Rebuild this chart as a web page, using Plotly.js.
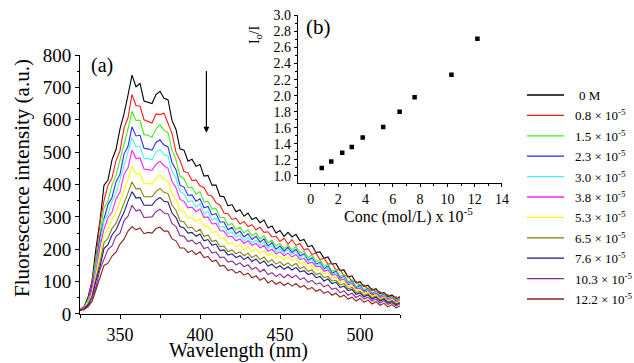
<!DOCTYPE html>
<html>
<head>
<meta charset="utf-8">
<script src="https://cdn.plot.ly/plotly-3.0.1.min.js"></script>
<style>html,body{margin:0;padding:0;background:#fff;}#chart{width:634px;height:363px;}</style>
</head>
<body>
<div id="chart"></div>
<script>
// Wavelength grid (nm), 325..525 step 2.5
const wavelength = [325,327.5,330,332.5,335,337.5,340,342.5,345,347.5,350,352.5,355,357.5,360,362.5,365,367.5,370,372.5,375,377.5,380,382.5,385,387.5,390,392.5,395,397.5,400,402.5,405,407.5,410,412.5,415,417.5,420,422.5,425,427.5,430,432.5,435,437.5,440,442.5,445,447.5,450,452.5,455,457.5,460,462.5,465,467.5,470,472.5,475,477.5,480,482.5,485,487.5,490,492.5,495,497.5,500,502.5,505,507.5,510,512.5,515,517.5,520,522.5,525];

const seriesNames = ["0 M","0.8 × 10<sup>-5</sup>","1.5 × 10<sup>-5</sup>","2.3 × 10<sup>-5</sup>","3.0 × 10<sup>-5</sup>","3.8 × 10<sup>-5</sup>","5.3 × 10<sup>-5</sup>","6.5 × 10<sup>-5</sup>","7.6 × 10<sup>-5</sup>","10.3 × 10<sup>-5</sup>","12.2 × 10<sup>-5</sup>"];

const s0M = [16,22,52,100,204,288,398,414,476,508,572,618,676,738,702,712,658,654,650,678,688,666,662,598,570,510,506,472,478,456,462,426,428,398,398,364,362,334,338,316,322,302,312,292,298,282,290,266,272,250,258,240,252,238,246,226,230,208,212,190,192,172,176,154,156,134,136,114,118,96,100,85,89,73,78,63,66,54,59,48,53];
const s08 = [14,23,40,102,176,282,350,398,420,474,504,574,606,678,644,642,600,594,590,618,616,620,590,558,500,474,440,436,412,414,396,390,368,364,344,336,312,310,292,296,278,286,270,276,260,268,252,254,238,240,224,234,216,230,212,218,198,202,184,188,168,172,154,156,136,138,118,118,100,102,86,90,75,79,66,69,56,60,49,53,46];
const s15 = [15,20,43,85,168,246,328,350,398,428,476,520,572,626,598,598,554,552,546,572,584,568,560,506,476,426,418,390,392,370,378,346,348,324,326,298,298,274,280,260,268,250,260,242,250,232,242,220,228,210,218,202,212,198,208,188,194,174,182,162,168,148,154,132,138,116,122,100,106,84,92,74,82,64,72,56,62,48,54,43,49];
const s23 = [13,21,35,86,146,238,294,338,360,408,432,494,518,578,550,552,512,510,506,530,538,522,516,468,446,398,392,366,368,348,356,328,332,306,310,284,284,260,268,248,256,238,248,230,240,222,232,210,220,200,210,194,206,190,200,180,186,166,174,154,160,140,148,126,132,110,116,94,101,80,88,70,78,61,69,53,60,45,53,40,48];
const s30 = [14,19,39,74,146,214,290,308,348,372,416,452,496,544,516,518,480,480,476,500,508,492,488,440,420,378,372,346,350,330,340,310,316,290,296,268,270,248,254,236,244,226,236,220,228,212,222,202,212,192,202,188,198,184,194,174,182,162,170,150,156,136,144,122,128,106,114,92,99,78,85,68,76,58,68,50,59,43,51,37,47];
const s38 = [12,20,31,76,128,208,262,298,314,356,376,432,452,506,480,482,448,446,444,462,472,458,450,410,390,354,348,328,330,316,324,298,300,278,280,258,256,238,240,226,232,218,226,212,218,204,212,194,200,186,192,180,188,176,184,168,172,156,160,146,148,132,136,120,122,104,108,90,94,78,80,67,72,58,64,50,55,42,48,37,43];
const s53 = [13,17,34,61,122,178,244,262,294,314,348,380,416,456,432,434,404,402,402,420,430,416,410,372,354,320,316,296,298,286,294,270,272,252,256,234,234,216,220,208,214,200,208,194,202,188,196,180,186,172,179,166,176,164,172,156,160,146,150,136,138,124,128,112,114,98,102,84,88,72,75,62,68,54,60,46,52,40,45,34,40];
const s65 = [11,18,30,55,110,160,220,234,264,280,310,340,374,408,386,388,362,362,362,378,388,376,372,336,320,288,284,266,268,254,262,240,244,224,228,208,210,192,198,186,192,180,188,174,182,168,176,160,168,154,161,150,158,148,156,140,146,132,136,122,126,112,116,102,104,90,94,78,82,66,70,57,63,50,56,43,49,37,42,32,37];
const s76 = [13,15,28,51,102,146,202,214,244,260,288,314,348,378,358,360,336,336,336,352,360,348,346,312,298,270,266,250,252,240,247,226,230,212,216,196,198,182,186,174,180,168,176,162,170,156,164,148,154,142,149,138,146,136,144,130,134,122,126,112,116,102,108,94,98,82,86,72,76,61,65,53,59,46,52,40,46,34,38,29,34];
const s103 = [10,16,22,50,84,138,172,200,210,240,250,288,302,336,318,322,298,300,300,316,324,312,310,280,270,242,240,224,228,216,222,202,206,188,192,174,176,160,164,152,158,146,152,138,144,130,138,122,128,116,124,112,122,112,120,106,112,98,104,92,96,84,90,76,80,66,72,58,64,51,58,46,52,40,46,34,41,30,35,25,31];
const s122 = [11,13,23,38,75,110,150,157,179,191,216,231,256,270,260,266,248,252,250,264,268,256,256,232,226,204,204,190,196,184,192,174,178,162,166,148,150,134,138,126,132,120,126,112,118,104,112,96,104,92,99,88,96,86,94,82,88,76,82,70,76,64,70,58,64,52,58,46,52,40,48,36,43,31,38,27,33,22,29,19,25];

const spectra = [s0M,s08,s15,s23,s30,s38,s53,s65,s76,s103,s122];
const colors = ["#000000","#ff1a1a","#44ee11","#2a2aff","#44f4f4","#ff22ff","#ffff00","#808000","#1a1a8c","#8a2a96","#8c2020"];

// Inset (b): Stern–Volmer data
const concValues = [0.8,1.5,2.3,3.0,3.8,5.3,6.5,7.6,10.3,12.2];
const ratioValues = [1.10,1.18,1.29,1.36,1.48,1.61,1.80,1.98,2.26,2.71];

const font = "Liberation Serif";

// pixel -> paper helpers (paper spans x 80..502, y 15..314)
const PX = px => (px - 80) / 422;
const PY = py => (314 - py) / 299;

const traces = spectra.map((s, i) => ({
  x: wavelength, y: s, type: "scatter", mode: "lines",
  name: seriesNames[i], showlegend: false,
  line: {color: colors[i], width: 1.1},
  xaxis: "x", yaxis: "y"
}));
traces.push({
  x: concValues, y: ratioValues, type: "scatter", mode: "markers",
  marker: {symbol: "square", size: 4.5, color: "#000"},
  xaxis: "x2", yaxis: "y2", showlegend: false
});

const axisCommon = {showgrid: false, zeroline: false, showline: true, linecolor: "#000", linewidth: 1,
  ticks: "outside", tickcolor: "#000", ticklen: 4, tickwidth: 1};

function ann(px, py, text, size, extra) {
  return Object.assign({xref: "paper", yref: "paper", x: PX(px), y: PY(py),
    xanchor: "center", yanchor: "middle", text: text, showarrow: false,
    font: {size: size, family: font, color: "#000"}}, extra || {});
}

// Hand-built legend (line + label per series)
const legendShapes = [];
const legendAnns = [];
seriesNames.forEach((nm, i) => {
  const py = 95 + i * 20.4;
  legendShapes.push({type: "line", xref: "paper", yref: "paper", x0: PX(527), x1: PX(564), y0: PY(py), y1: PY(py),
    line: {color: colors[i], width: 1.3}});
  legendAnns.push(ann(i === 0 ? 577 : 573, py, nm, 13, {xanchor: "left"}));
});

const layout = {
  width: 634, height: 363,
  margin: {l: 80, r: 132, t: 15, b: 49},
  paper_bgcolor: "#fff", plot_bgcolor: "rgba(0,0,0,0)",
  font: {family: font, color: "#000"},
  showlegend: false,
  xaxis: Object.assign({}, axisCommon, {domain: [0, 0.7583], range: [325, 525], anchor: "y",
    dtick: 50, tickfont: {size: 18, family: font, color: "#000"}, minor: {dtick: 25, ticks: "outside", ticklen: 2.5, tickcolor: "#000"}}),
  yaxis: Object.assign({}, axisCommon, {domain: [0, 0.8662], range: [0, 800], anchor: "x",
    dtick: 100, tickfont: {size: 19, family: font, color: "#000"}, minor: {dtick: 50, ticks: "outside", ticklen: 2.5, tickcolor: "#000"}}),
  xaxis2: Object.assign({}, axisCommon, {domain: [0.5159, 1], range: [-0.96, 14], anchor: "y2",
    dtick: 2, tickfont: {size: 14, family: font, color: "#000"}, ticklen: 3, minor: {dtick: 1, ticks: "outside", ticklen: 2, tickcolor: "#000"}}),
  yaxis2: Object.assign({}, axisCommon, {domain: [0.4381, 1], range: [0.9125, 3.005], anchor: "x2",
    dtick: 0.2, tickformat: ".1f", tickfont: {size: 14, family: font, color: "#000"}, ticklen: 3, minor: {dtick: 0.1, ticks: "outside", ticklen: 2, tickcolor: "#000"}}),
  shapes: legendShapes,
  annotations: [
    ann(238, 350, "Wavelength (nm)", 20),
    ann(22, 178, "Fluorescence intensity (a.u.)", 21, {textangle: -90}),
    ann(408, 215, "Conc (mol/L) x 10<sup>-5</sup>", 16),
    ann(256, 35, "I<sub>o</sub>/I", 14, {textangle: -90}),
    ann(101.5, 65, "(a)", 20),
    ann(318, 27, "(b)", 21),
    {xref: "x", yref: "y", axref: "x", ayref: "y", x: 404, y: 560, ax: 404, ay: 755, text: "", showarrow: true,
      arrowhead: 2, arrowsize: 1, arrowwidth: 1.2, arrowcolor: "#000"}
  ].concat(legendAnns)
};

Plotly.newPlot("chart", traces, layout, {displayModeBar: false, staticPlot: true});
</script>
</body>
</html>
